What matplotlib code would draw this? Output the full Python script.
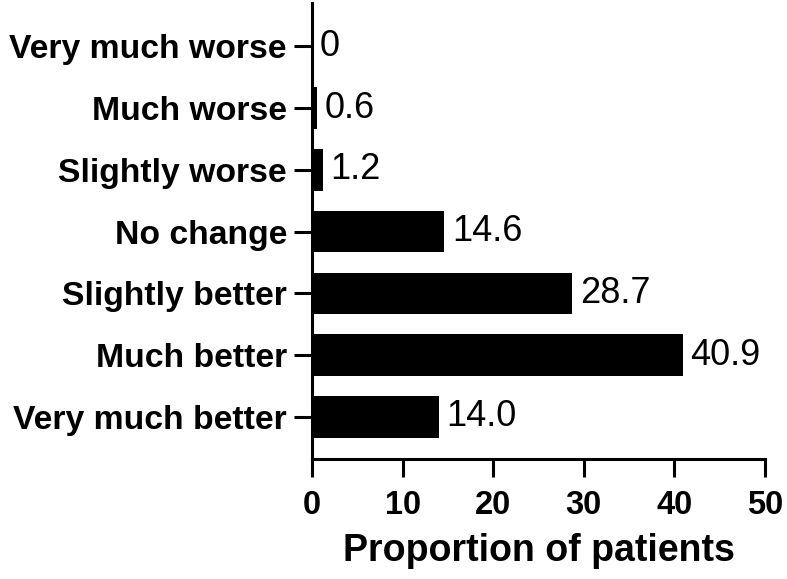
import matplotlib
matplotlib.use("Agg")
import matplotlib.pyplot as plt

categories = ["Very much worse", "Much worse", "Slightly worse", "No change",
              "Slightly better", "Much better", "Very much better"]
values = [0, 0.6, 1.2, 14.6, 28.7, 40.9, 14.0]
labels = ["0", "0.6", "1.2", "14.6", "28.7", "40.9", "14.0"]

plt.rcParams['font.family'] = ['Liberation Sans', 'DejaVu Sans']

fig = plt.figure(figsize=(7.87, 5.79), dpi=100, facecolor='white')
ax = fig.add_axes([0.3964, 0.2073, 0.5756, 0.7875])

pos = list(range(len(categories)))
ax.barh(pos, values, height=0.67, color='black')
for p, v, t in zip(pos, values, labels):
    ax.annotate(t, (v, p), xytext=(5.5, 0), textcoords='offset points',
                va='center', ha='left', fontsize=26)

ax.set_ylim(6.68, -0.70)
ax.set_xlim(0, 50)
ax.set_yticks(pos)
ax.set_yticklabels(categories, fontsize=24.3, fontweight='bold')
ax.set_xticks([0, 10, 20, 30, 40, 50])
ax.set_xticklabels(["0", "10", "20", "30", "40", "50"], fontsize=23.5, fontweight='bold')
ax.tick_params(axis='x', width=2.2, length=13, pad=9)
ax.tick_params(axis='y', width=2.2, length=13, pad=5)
ax.spines['top'].set_visible(False)
ax.spines['right'].set_visible(False)
ax.spines['left'].set_linewidth(2.2)
ax.spines['bottom'].set_linewidth(2.2)
ax.set_xlabel("Proportion of patients", fontsize=27, fontweight='bold', labelpad=9)

fig.savefig("out.png", dpi=100, facecolor='white')
